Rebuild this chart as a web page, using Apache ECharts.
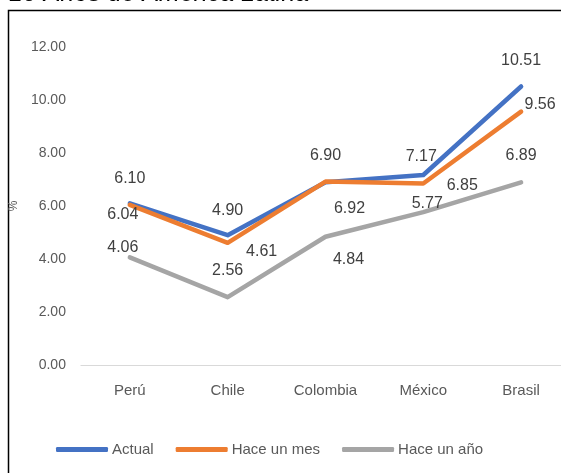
<!DOCTYPE html>
<html>
<head>
<meta charset="utf-8">
<script src="https://cdn.jsdelivr.net/npm/echarts@6/dist/echarts.min.js"></script>
<style>
  html, body { margin: 0; padding: 0; background: #fff; overflow: hidden; }
  #chart { width: 580px; height: 473px; }
</style>
</head>
<body>
<div id="chart"></div>
<script>
// Categories and series values
const paises = ['Perú', 'Chile', 'Colombia', 'México', 'Brasil'];
const actual = [6.10, 4.90, 6.90, 7.17, 10.51];
const haceUnMes = [6.04, 4.61, 6.92, 6.85, 9.56];
const haceUnAno = [4.06, 2.56, 4.84, 5.77, 6.89];
const yTicks = [0, 2, 4, 6, 8, 10, 12];

// Label offsets [dx, dy] per point, relative to the 'top' position
const offActual = [[0, -5], [0, -5], [0, -7], [-2, 2], [0, -6]];
const offMes = [[-7, 30], [34, 29], [24, 47], [39, 22], [19, 13]];
const offAno = [[-7, 10], [0, -7], [23, 43], [4, 11], [0, -7]];

const labelStyle = { color: '#404040', fontSize: 16, fontFamily: 'Liberation Sans' };

function points(values, offs) {
  return values.map((v, i) => ({
    value: v,
    label: { offset: offs[i] }
  }));
}

function lineSeries(name, values, offs, color, z) {
  return {
    name: name,
    type: 'line',
    data: points(values, offs),
    symbol: 'circle',
    symbolSize: 0,
    showSymbol: true,
    lineStyle: { color: color, width: 4.5, cap: 'round', join: 'round' },
    itemStyle: { color: color },
    label: {
      show: true,
      position: 'top',
      distance: 12,
      formatter: p => p.value.toFixed(2),
      ...labelStyle
    },
    z: z
  };
}

const chart = echarts.init(document.getElementById('chart'));
chart.setOption({
  animation: false,
  backgroundColor: '#fff',
  title: {
    text: '10 Años de América Latina',
    left: 4,
    top: -23,
    textStyle: { fontSize: 25, fontStyle: 'italic', fontWeight: 'normal', color: '#000', fontFamily: 'Liberation Sans' }
  },
  graphic: [{
    type: 'rect',
    shape: { x: 8.5, y: 10.5, width: 620, height: 500 },
    style: { fill: 'none', stroke: '#000', lineWidth: 1.5 },
    silent: true,
    z: -1
  }],
  grid: { left: 80, top: 47, width: 490, height: 318, containLabel: false },
  legend: {
    left: 51,
    top: 437,
    itemWidth: 52,
    itemHeight: 5,
    itemGap: 22,
    icon: 'roundRect',
    textStyle: { color: '#595959', fontSize: 15, fontFamily: 'Liberation Sans', padding: [0, 0, 0, -1] },
    data: ['Actual', 'Hace un mes', 'Hace un año']
  },
  xAxis: {
    type: 'category',
    data: paises,
    boundaryGap: true,
    axisLine: { lineStyle: { color: '#d9d9d9', width: 1 } },
    axisTick: { show: false },
    axisLabel: { color: '#595959', fontSize: 15, margin: 18, fontFamily: 'Liberation Sans' }
  },
  yAxis: {
    type: 'value',
    min: yTicks[0],
    max: yTicks[yTicks.length - 1],
    interval: 2,
    name: '%',
    nameLocation: 'middle',
    nameRotate: 90,
    nameGap: 54,
    nameTextStyle: { color: '#595959', fontSize: 12, fontFamily: 'Liberation Sans' },
    splitLine: { show: false },
    axisLine: { show: false },
    axisTick: { show: false },
    axisLabel: {
      color: '#595959',
      fontSize: 14,
      margin: 15,
      fontFamily: 'Liberation Sans',
      formatter: v => v.toFixed(2)
    }
  },
  series: [
    lineSeries('Hace un año', haceUnAno, offAno, '#A5A5A5', 2),
    lineSeries('Actual', actual, offActual, '#4472C4', 3),
    lineSeries('Hace un mes', haceUnMes, offMes, '#ED7D31', 4)
  ]
});
</script>
</body>
</html>
